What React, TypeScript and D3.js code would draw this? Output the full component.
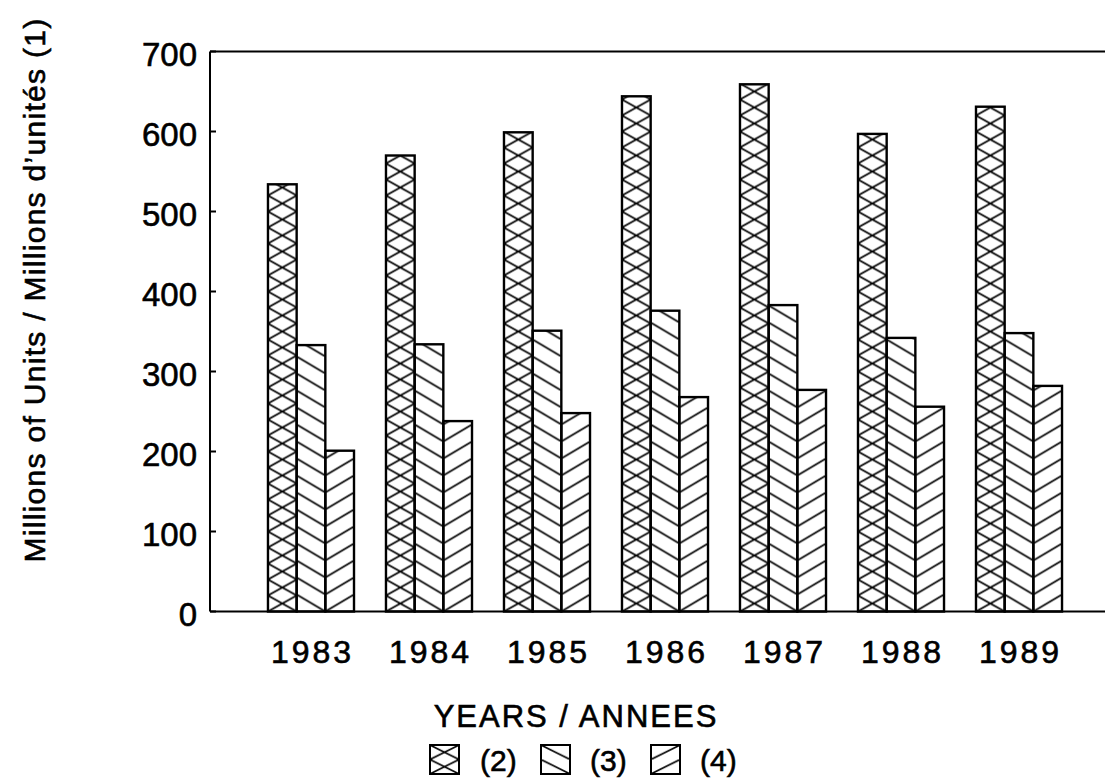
import React from 'react';
import * as d3 from 'd3';

const years = ['1983', '1984', '1985', '1986', '1987', '1988', '1989'];
const seriesKeys = ['2', '3', '4'];
const series2 = [534, 570, 599, 644, 659, 597, 631];
const series3 = [333, 334, 351, 376, 383, 342, 348];
const series4 = [201, 238, 248, 268, 277, 256, 282];
const yTicks = [0, 100, 200, 300, 400, 500, 600, 700];

const W = 1108;
const H = 779;
const font = '"Liberation Sans", Arial, Helvetica, sans-serif';

const left = 210;
const right = 1105;
const top = 51.5;
const bottom = 611.5;

// tile content for each fill type
const tileLines = (key: string, w: number, h: number) => {
  if (key === '2') {
    return [
      [0, 0, w, h],
      [0, h, w, 0],
    ];
  }
  if (key === '3') {
    return [
      [-w, -h, 2 * w, 2 * h],
    ];
  }
  return [
    [-w, 2 * h, 2 * w, -h],
  ];
};

const tileHeight: Record<string, number> = { '2': 16, '3': 17, '4': 17 };

const App = () => {
  const x = d3.scaleBand().domain(years).range([236, 1094]).paddingInner(0.271).paddingOuter(0.271);
  const sub = d3.scaleBand().domain(seriesKeys).range([0, x.bandwidth()]);
  const y = d3.scaleLinear().domain([0, 700]).range([bottom, top]);

  const values: Record<string, number[]> = { '2': series2, '3': series3, '4': series4 };

  const bars = years.flatMap((yr, i) =>
    seriesKeys.map((k) => ({
      id: `pat-${i}-${k}`,
      key: k,
      x: (x(yr) as number) + (sub(k) as number),
      w: sub.bandwidth(),
      v: values[k][i],
    }))
  );

  // legend boxes
  const legendBox = 29;
  const legend = [
    { key: '2', bx: 430, tx: 480, label: '(2)' },
    { key: '3', bx: 541, tx: 590, label: '(3)' },
    { key: '4', bx: 651, tx: 700, label: '(4)' },
  ];
  const legendY = 745;
  const ink = { fill: '#000', stroke: '#000', strokeWidth: 0.6 };

  return (
    <svg width={W} height={H} style={{ position: 'absolute', left: 0, top: 0, background: '#fff' }}>
      <defs>
        {bars.map((b) => {
          const th = tileHeight[b.key];
          return (
            <pattern key={b.id} id={b.id} patternUnits="userSpaceOnUse"
              x={b.x} y={y(0)} width={b.w} height={th}>
              {tileLines(b.key, b.w, th).map((l, j) => (
                <line key={j} x1={l[0]} y1={l[1]} x2={l[2]} y2={l[3]} stroke="#000" strokeWidth={1.7} />
              ))}
            </pattern>
          );
        })}
        {legend.map((d) => (
          <pattern key={d.key} id={`leg-${d.key}`} patternUnits="userSpaceOnUse"
            x={d.bx} y={legendY} width={legendBox} height={legendBox / 2}>
            {tileLines(d.key, legendBox, legendBox / 2).map((l, j) => (
              <line key={j} x1={l[0]} y1={l[1]} x2={l[2]} y2={l[3]} stroke="#000" strokeWidth={1.6} />
            ))}
          </pattern>
        ))}
      </defs>

      {/* bars */}
      {bars.map((b) => (
        <rect key={b.id} x={b.x} y={y(b.v)} width={b.w} height={y(0) - y(b.v)}
          fill={`url(#${b.id})`} stroke="#000" strokeWidth={2.4} />
      ))}

      {/* frame */}
      <line x1={left} x2={right} y1={top} y2={top} stroke="#000" strokeWidth={2} />
      <line x1={left} x2={right} y1={bottom} y2={bottom} stroke="#000" strokeWidth={2} />
      <line x1={left} x2={left} y1={top} y2={bottom} stroke="#000" strokeWidth={2} />

      {/* y ticks */}
      {yTicks.map((t) => (
        <g key={t}>
          <line x1={left} x2={left + 6} y1={y(t)} y2={y(t)} stroke="#000" strokeWidth={2} />
          <text x={197} y={y(t) + 14} textAnchor="end" fontFamily={font} fontSize={33} {...ink}>{t}</text>
        </g>
      ))}

      {/* year labels */}
      {years.map((yr) => (
        <text key={yr} x={(x(yr) as number) + x.bandwidth() / 2 + 1.5} y={663} textAnchor="middle"
          fontFamily={font} fontSize={32} letterSpacing={3} {...ink}>{yr}</text>
      ))}

      <text x={576} y={727} textAnchor="middle" fontFamily={font} fontSize={31} letterSpacing={2} {...ink}>
        YEARS / ANNEES
      </text>

      <text transform="translate(45,290) rotate(-90)" textAnchor="middle" fontFamily={font}
        fontSize={30} letterSpacing={1.3} {...ink}>
        Millions of Units / Millions d’unités (1)
      </text>

      {/* legend */}
      {legend.map((d) => (
        <g key={d.key}>
          <rect x={d.bx} y={legendY} width={legendBox} height={legendBox}
            fill={`url(#leg-${d.key})`} stroke="#000" strokeWidth={2} />
          <text x={d.tx} y={771} fontFamily={font} fontSize={30} {...ink}>{d.label}</text>
        </g>
      ))}
    </svg>
  );
};

export default App;
